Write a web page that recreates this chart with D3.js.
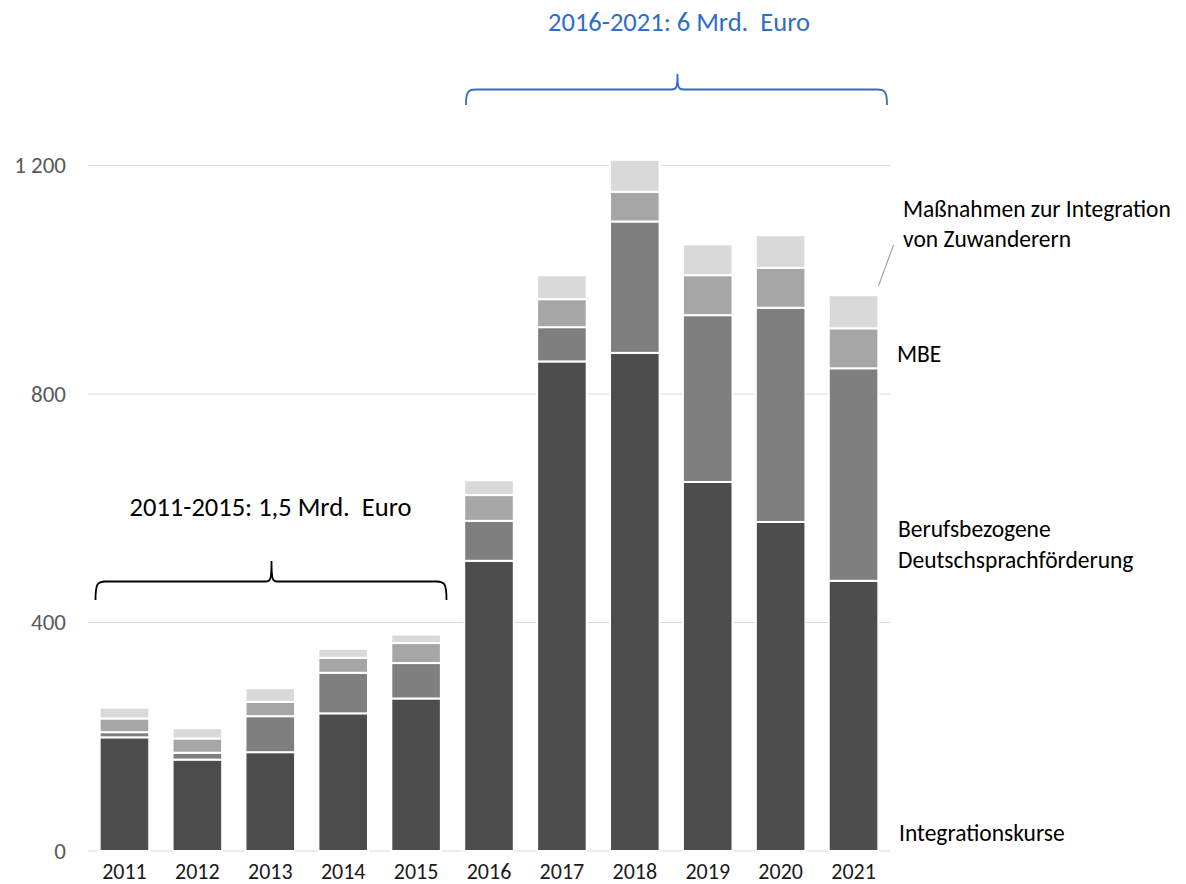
<!DOCTYPE html>
<html>
<head>
<meta charset="utf-8">
<script src="https://cdn.jsdelivr.net/npm/d3@7"></script>
<style>
  body { margin: 0; background: #fff; }
  svg { font-family: Carlito, Lato, sans-serif; }
</style>
</head>
<body>
<script>
// values in Mio. Euro
const years = [2011, 2012, 2013, 2014, 2015, 2016, 2017, 2018, 2019, 2020, 2021];
const integrationskurse = [199, 160, 173, 241, 267, 508, 857, 872, 646, 576, 473];
const berufsbezogene = [9, 12, 63, 71, 62, 70, 60, 230, 292, 375, 372];
const mbe = [24, 25, 25, 26, 35, 45, 49, 52, 70, 70, 70];
const massnahmen = [19, 18, 24, 16, 15, 26, 42, 56, 54, 57, 58];
const yTicks = [0, 400, 800, 1200];

const seriesNames = ["integrationskurse", "berufsbezogene", "mbe", "massnahmen"];
const colors = ["#4d4d4d", "#7f7f7f", "#a6a6a6", "#d9d9d9"];

const w = 1186, h = 884;
const left = 88, right = 890;

const table = years.map((y, i) => ({
  year: y,
  integrationskurse: integrationskurse[i],
  berufsbezogene: berufsbezogene[i],
  mbe: mbe[i],
  massnahmen: massnahmen[i]
}));

const stacked = d3.stack().keys(seriesNames)(table);

const xScale = d3.scaleBand()
  .domain(years)
  .range([left, right])
  .paddingInner(0.32)
  .paddingOuter(0.16);

const yScale = d3.scaleLinear()
  .domain([0, 1200])
  .range([851, 165.5]);

const svg = d3.select("body")
  .append("svg")
    .attr("width", w)
    .attr("height", h);

// gridlines
svg.append("g")
  .selectAll("line")
  .data(yTicks)
  .enter()
  .append("line")
    .attr("x1", left)
    .attr("x2", right)
    .attr("y1", d => yScale(d))
    .attr("y2", d => yScale(d))
    .style("stroke", "#d9d9d9")
    .style("stroke-width", 1);

// bars
svg.append("g")
  .selectAll("g")
  .data(stacked)
  .enter()
  .append("g")
    .style("fill", (d, i) => colors[i])
  .selectAll("rect")
  .data(d => d)
  .enter()
  .append("rect")
    .attr("x", d => xScale(d.data.year))
    .attr("y", d => yScale(d[1]))
    .attr("width", xScale.bandwidth())
    .attr("height", d => yScale(d[0]) - yScale(d[1]))
    .style("stroke", "#fff")
    .style("stroke-width", 2);

const fmt = d3.formatLocale({ decimal: ",", thousands: " ", grouping: [3], currency: ["", ""] }).format(",d");

const yAxis = d3.axisLeft(yScale).tickValues(yTicks).tickSize(0).tickPadding(0).tickFormat(fmt);
svg.append("g")
  .attr("id", "y-axis")
  .attr("transform", "translate(66,0)")
  .call(yAxis)
  .call(g => g.select(".domain").remove())
  .selectAll("text")
    .style("font-family", "Carlito, Lato, sans-serif")
    .style("font-size", "23px")
    .style("fill", "#595959");

const xAxis = d3.axisBottom(xScale).tickSize(0).tickPadding(0);
svg.append("g")
  .attr("id", "x-axis")
  .attr("transform", "translate(0,863.5)")
  .call(xAxis)
  .call(g => g.select(".domain").remove())
  .selectAll("text")
    .attr("dy", "0.71em")
    .style("font-family", "Carlito, Lato, sans-serif")
    .style("font-size", "22px")
    .style("fill", "#1a1a1a");

// series labels on the right
const labels = [
  { lines: ["Maßnahmen zur Integration", "von Zuwanderern"], x: 903, y: 217, lh: 29.5 },
  { lines: ["MBE"], x: 897, y: 362, lh: 0 },
  { lines: ["Berufsbezogene", "Deutschsprachförderung"], x: 898, y: 537, lh: 30.5 },
  { lines: ["Integrationskurse"], x: 899, y: 841, lh: 0 }
];
labels.forEach(l => {
  const t = svg.append("text")
    .attr("x", l.x)
    .attr("y", l.y)
    .style("font-size", "23.5px")
    .style("fill", "#000");
  l.lines.forEach((s, i) => {
    t.append("tspan").attr("x", l.x).attr("dy", i == 0 ? 0 : l.lh).text(s);
  });
});

svg.append("line")
  .attr("x1", 878.5).attr("y1", 286)
  .attr("x2", 893.5).attr("y2", 245)
  .style("stroke", "#a6a6a6")
  .style("stroke-width", 1.2);

// curly braces
function brace(x1, x2, xm, yLine, yEnd, yTip) {
  const r = 10, t = 6;
  return "M" + x1 + "," + yEnd +
    " C" + x1 + "," + (yLine + 2) + " " + (x1 + 2) + "," + yLine + " " + (x1 + r) + "," + yLine +
    " L" + (xm - t) + "," + yLine +
    " C" + (xm - 1) + "," + yLine + " " + xm + "," + (yLine - 2) + " " + xm + "," + yTip +
    " C" + xm + "," + (yLine - 2) + " " + (xm + 1) + "," + yLine + " " + (xm + t) + "," + yLine +
    " L" + (x2 - r) + "," + yLine +
    " C" + (x2 - 2) + "," + yLine + " " + x2 + "," + (yLine + 2) + " " + x2 + "," + yEnd;
}

svg.append("path")
  .attr("d", brace(95.5, 446.5, 271.5, 581.5, 600, 561))
  .style("fill", "none")
  .style("stroke", "#000")
  .style("stroke-width", 1.8);

svg.append("text")
  .attr("x", 270.5)
  .attr("y", 516)
  .attr("text-anchor", "middle")
  .style("font-size", "26.5px")
  .style("fill", "#000")
  .text("2011-2015: 1,5 Mrd.\u00a0 Euro");

svg.append("path")
  .attr("d", brace(466, 887, 677.5, 89.5, 105, 74))
  .style("fill", "none")
  .style("stroke", "#2f6ec6")
  .style("stroke-width", 1.8);

svg.append("text")
  .attr("x", 679)
  .attr("y", 31)
  .attr("text-anchor", "middle")
  .style("font-size", "26.5px")
  .style("fill", "#2f6ec6")
  .text("2016-2021: 6 Mrd.\u00a0 Euro");
</script>
</body>
</html>
